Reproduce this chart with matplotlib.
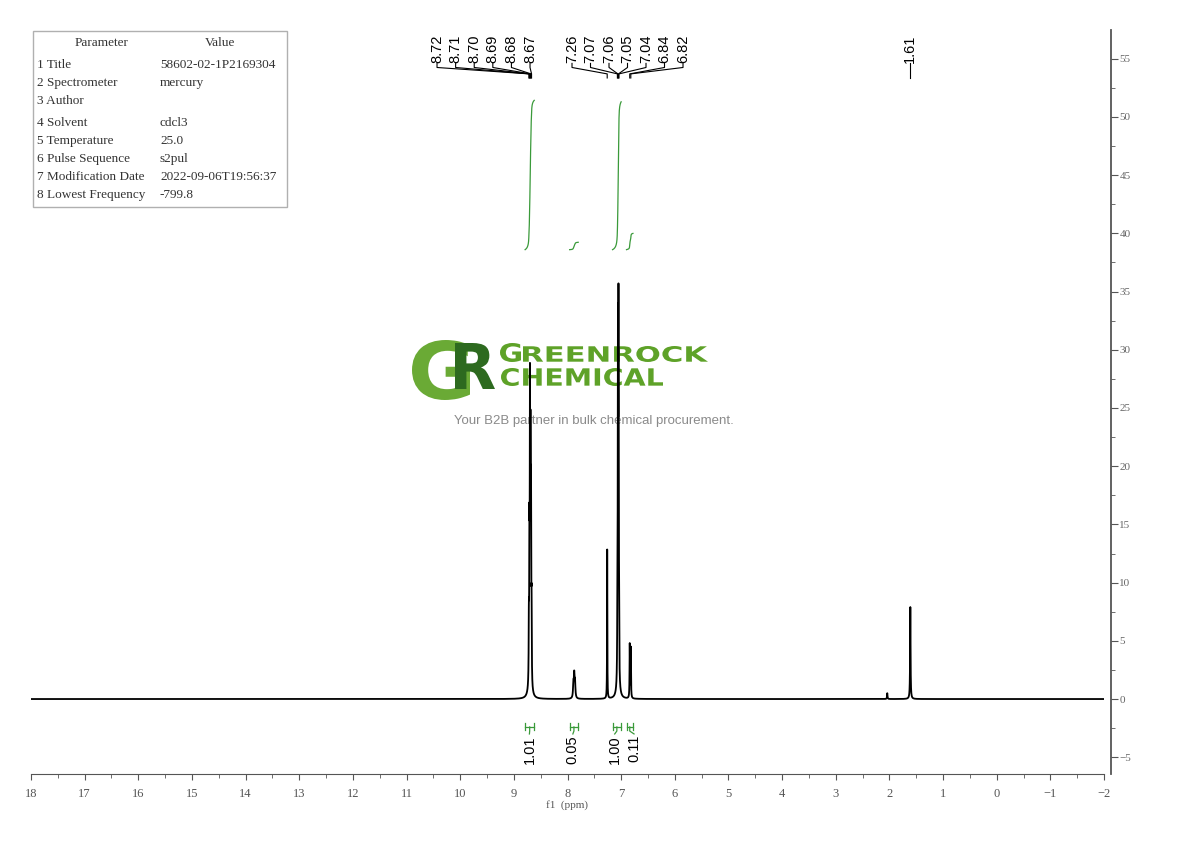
import numpy as np
import matplotlib
matplotlib.use("Agg")
import matplotlib.pyplot as plt
from matplotlib.textpath import TextPath
from matplotlib.patches import PathPatch, Rectangle
from matplotlib.font_manager import FontProperties
from matplotlib.transforms import Affine2D
from matplotlib.ticker import MultipleLocator

# peak list: shift (ppm), height, half width (ppm)
peak_shift = [8.72, 8.71, 8.70, 8.69, 8.68, 8.67, 8.70,
              7.89, 7.875, 7.86, 7.26,
              7.07, 7.06, 7.05, 7.04, 7.055,
              6.84, 6.82, 2.04, 1.61]
peak_height = [5.0, 11.0, 23.0, 18.0, 15.0, 6.0, 1.0,
               1.2, 1.9, 1.3, 12.8,
               6.0, 28.0, 30.0, 6.0, 0.8,
               4.6, 4.3, 0.5, 7.9]
peak_width = [0.004, 0.004, 0.004, 0.004, 0.004, 0.004, 0.03,
              0.008, 0.008, 0.008, 0.003,
              0.004, 0.004, 0.004, 0.004, 0.03,
              0.004, 0.004, 0.005, 0.005]

# picked peak labels
labels_a = ["8.72", "8.71", "8.70", "8.69", "8.68", "8.67"]
labels_b = ["7.26", "7.07", "7.06", "7.05", "7.04", "6.84", "6.82"]
labels_c = ["1.61"]

# integrals: region (ppm) and value
int_hi = [8.79, 7.96, 7.16, 6.90]
int_lo = [8.62, 7.80, 7.00, 6.78]
int_value = [1.01, 0.05, 1.00, 0.11]
int_label_x = [8.71, 7.90, 7.12, 6.76]

params = ["1 Title", "2 Spectrometer", "3 Author", "4 Solvent", "5 Temperature",
          "6 Pulse Sequence", "7 Modification Date", "8 Lowest Frequency"]
values = ["58602-02-1P2169304", "mercury", "", "cdcl3", "25.0",
          "s2pul", "2022-09-06T19:56:37", "-799.8"]

ppm = np.linspace(18, -2, 40001)
spec = np.zeros_like(ppm)
for s, h, w in zip(peak_shift, peak_height, peak_width):
    spec += h / (1 + ((ppm - s) / w) ** 2)

serif = "Liberation Serif"
sans = "Liberation Sans"
green = "#3a9a3a"

fig = plt.figure(figsize=(11.9, 8.41), dpi=100)

# background layer for the table and the logo, in pixel units
bg = fig.add_axes([0, 0, 1, 1], zorder=0)
bg.set_xlim(0, 1190)
bg.set_ylim(841, 0)
bg.axis("off")

bg.add_patch(Rectangle((33, 31), 254, 176, fill=False, edgecolor="#b0b0b0", lw=1))
bg.text(102, 43, "Parameter", ha="center", va="center", fontsize=9.5, family=serif, color="#333")
bg.text(220, 43, "Value", ha="center", va="center", fontsize=9.5, family=serif, color="#333")
row_y = [65, 83, 101, 123, 141, 159, 177, 195]
for yy, p, v in zip(row_y, params, values):
    bg.text(37, yy, p, ha="left", va="center", fontsize=9.5, family=serif, color="#333")
    bg.text(160, yy, v, ha="left", va="center", fontsize=9.5, family=serif, color="#333")


def stretched(s, x0, x1, ytop, ybot, color):
    tp = TextPath((0, 0), s, size=1, prop=FontProperties(family="DejaVu Sans", weight="bold"))
    ext = tp.get_extents()
    tr = (Affine2D().translate(-ext.x0, -ext.y0)
          .scale((x1 - x0) / ext.width, -(ybot - ytop) / ext.height)
          .translate(x0, ybot))
    bg.add_patch(PathPatch(tr.transform_path(tp), facecolor=color, lw=0))


stretched("G", 412, 470, 340, 400, "#6aaa35")
stretched("R", 455, 495, 343, 389, "#2d6a1f")
stretched("G", 500, 521, 343, 362, "#5ea228")
stretched("REENROCK", 523, 708, 346, 362, "#5ea228")
stretched("CHEMICAL", 501, 663, 368, 386, "#5ea228")
bg.text(594, 421, "Your B2B partner in bulk chemical procurement.", ha="center", va="center",
        fontsize=9.5, family=sans, color="#8a8a8a")

# spectrum axes
ax = fig.add_axes([31 / 1190, (841 - 774) / 841, (1104 - 31) / 1190, (774 - 30) / 841], zorder=1)
ax.patch.set_alpha(0)
ax.plot(ppm, spec, color="black", lw=1.3)
ax.set_xlim(18, -2)

for sp in ["top", "left"]:
    ax.spines[sp].set_visible(False)
ax.spines["bottom"].set_color("#555")
ax.spines["right"].set_color("#555")
ax.spines["right"].set_position(("outward", 5))
ax.spines["right"].set_linewidth(1.3)

ax.xaxis.set_major_locator(MultipleLocator(1))
ax.xaxis.set_minor_locator(MultipleLocator(0.5))
ax.yaxis.set_minor_locator(MultipleLocator(2.5))
ax.yaxis.tick_right()
ax.tick_params(axis="x", which="major", length=4, color="#555", labelsize=9, labelcolor="#555", pad=6)
ax.tick_params(axis="x", which="minor", length=3, color="#555")
ax.tick_params(axis="y", which="major", length=5, color="#555", labelsize=8, labelcolor="#666", pad=1)
ax.tick_params(axis="y", which="minor", length=3, color="#555")
ax.set_yticks(np.arange(-5, 56, 5))
ax.set_ylim(-6.44, 57.47)
for lab in ax.get_xticklabels() + ax.get_yticklabels():
    lab.set_family(serif)
ax.set_xlabel("f1  (ppm)", family=serif, fontsize=8, color="#555", labelpad=0)

# peak labels with connectors
px_per_ppm = 1073 / 20.0


def label_group(texts, x_start, step):
    for i, t in enumerate(texts):
        lx = x_start - i * step
        pk = float(t)
        ax.text(lx, 54.64, t, rotation=90, ha="center", va="bottom", fontsize=10.5,
                family=sans, clip_on=False)
        ax.plot([lx, lx, pk, pk], [54.6, 54.25, 53.7, 53.35], color="black", lw=0.8, clip_on=False)


label_group(labels_a, 10.432, 18.6 / px_per_ppm)
label_group(labels_b, 7.916, 18.5 / px_per_ppm)
ax.text(1.61, 54.64, labels_c[0], rotation=90, ha="center", va="bottom", fontsize=10.5,
        family=sans, clip_on=False)
ax.plot([1.61, 1.61], [54.6, 53.35], color="black", lw=0.8, clip_on=False)

# integral curves and brackets
scale = 12.7
base = 38.6
for hi, lo, val, lx in zip(int_hi, int_lo, int_value, int_label_x):
    m = (ppm <= hi) & (ppm >= lo)
    c = np.cumsum(spec[m])
    c = c / c[-1] * val * scale + base
    ax.plot(ppm[m], c, color=green, lw=0.9)
    yb = -2.4
    ax.plot([hi, lo], [yb, yb], color=green, lw=0.9)
    ax.plot([hi, hi], [yb - 0.3, yb + 0.3], color=green, lw=0.9)
    ax.plot([lo, lo], [yb - 0.3, yb + 0.3], color=green, lw=0.9)
    mid = (hi + lo) / 2
    ax.plot([mid, mid, lx], [yb, yb - 0.35, yb - 0.6], color=green, lw=0.9)
    ax.text(lx, -3.1, "%.2f" % val, rotation=90, ha="center", va="top", fontsize=10.5, family=sans)

fig.savefig("out.png", dpi=100)
